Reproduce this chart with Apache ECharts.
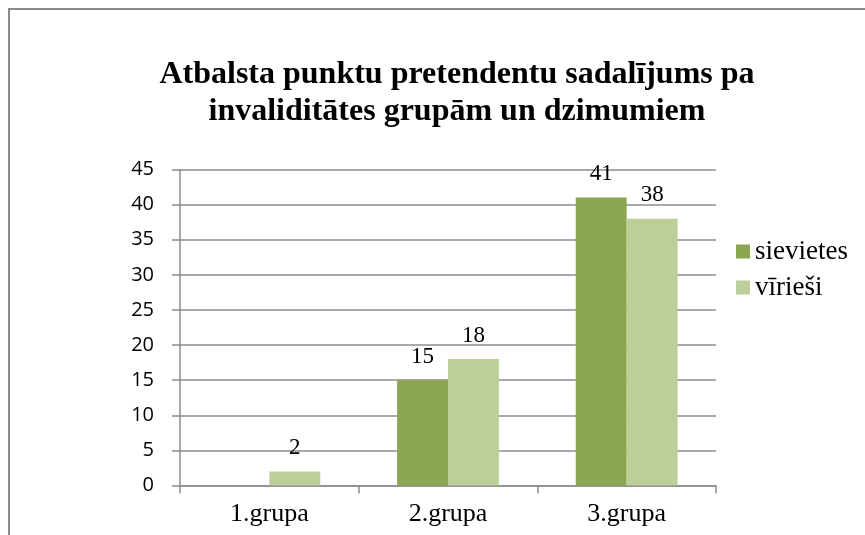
<!DOCTYPE html>
<html>
<head>
<meta charset="utf-8">
<script src="https://cdn.jsdelivr.net/npm/echarts@6/dist/echarts.min.js"></script>
<style>
html,body{margin:0;padding:0;background:#fff;}
#c{width:865px;height:535px;}
</style>
</head>
<body>
<div id="c"></div>
<script>
var titleText = 'Atbalsta punktu pretendentu sadalījums pa\ninvaliditātes grupām un dzimumiem';
var categories = ['1.grupa', '2.grupa', '3.grupa'];
var seriesNames = ['sievietes', 'vīrieši'];
var sievietes = [null, 15, 41];
var virieši = [2, 18, 38];
var yTicks = { min: 0, max: 45, interval: 5 };

var chart = echarts.init(document.getElementById('c'), null, { renderer: 'canvas' });
var serif = '"Liberation Serif", "Times New Roman", serif';
var gridColor = '#8c8c8c';
var labelStyle = {
  show: true, position: 'top', distance: 12,
  fontFamily: serif, fontSize: 23, color: '#000'
};
chart.setOption({
  animation: false,
  backgroundColor: '#fff',
  graphic: [{
    type: 'rect', silent: true,
    shape: { x: 9, y: 9, width: 1000, height: 1000 },
    style: { fill: 'none', stroke: '#8a8a8a', lineWidth: 2 }
  }],
  title: {
    text: titleText,
    left: 452, top: 51, textAlign: 'center',
    textStyle: { fontFamily: serif, fontWeight: 'bold', fontSize: 32, lineHeight: 37, color: '#000' }
  },
  legend: {
    orient: 'vertical', left: 731, top: 233,
    icon: 'rect', itemWidth: 14, itemHeight: 14, itemGap: 9,
    textStyle: { fontFamily: serif, fontSize: 27, lineHeight: 27, color: '#000' },
    data: seriesNames
  },
  grid: { left: 180, right: 149, top: 169.5, bottom: 49.5, containLabel: false },
  xAxis: {
    type: 'category', data: categories,
    axisLine: { show: true, lineStyle: { color: gridColor, width: 1.5 } },
    axisTick: { show: true, length: 8, lineStyle: { color: gridColor, width: 1.5 } },
    axisLabel: { fontFamily: serif, fontSize: 26, color: '#000', margin: 16 }
  },
  yAxis: {
    type: 'value', min: yTicks.min, max: yTicks.max, interval: yTicks.interval,
    axisLine: { show: true, lineStyle: { color: gridColor, width: 1.5 } },
    axisTick: { show: true, length: 8, inside: false, lineStyle: { color: gridColor, width: 1.5 } },
    axisLabel: { fontFamily: '"Open Sans", "Noto Sans", sans-serif', fontSize: 20, color: '#000', margin: 26 },
    splitLine: { show: true, lineStyle: { color: gridColor, width: 1.5 } }
  },
  series: [
    { name: seriesNames[0], type: 'bar', data: sievietes, barGap: '0%', barCategoryGap: '43%',
      itemStyle: { color: '#8ba552' }, label: labelStyle },
    { name: seriesNames[1], type: 'bar', data: virieši, barGap: '0%', barCategoryGap: '43%',
      itemStyle: { color: '#bccf98' }, label: labelStyle }
  ]
});
</script>
</body>
</html>
